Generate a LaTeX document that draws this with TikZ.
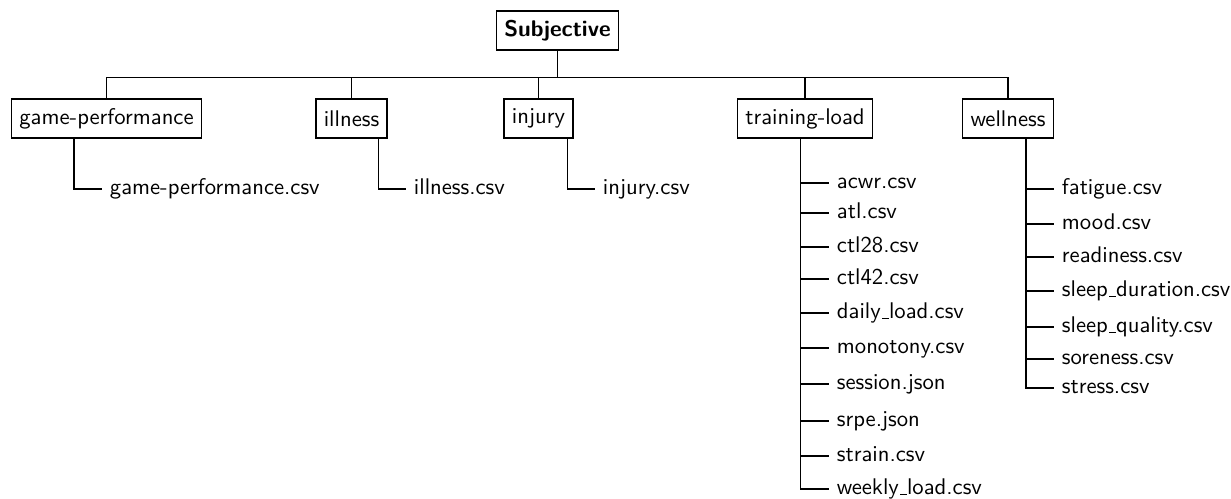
\documentclass[tikz,border=0pt]{standalone}
\renewcommand{\familydefault}{\sfdefault}
\newcommand{\usc}{\leavevmode\kern.06em\vbox{\hrule width.3em}}
\begin{document}
\begin{tikzpicture}[x=0.4587pt, y=-0.4587pt, line width=0.6pt,
  font=\fontsize{10.4}{12.5}\selectfont,
  folder/.style={draw, minimum height=17.9pt, inner xsep=3.6pt, inner ysep=3.33pt},
  file/.style={anchor=west, text height=1.6ex, text depth=.4ex}]
\useasboundingbox (0,0) rectangle (1231,498);
% top level
\node[folder] (subj) at (557.5,30.5) {\textbf{Subjective}};
\node[folder] (gp) at (106.5,118.5) {game-performance};
\node[folder] (ill) at (351.5,118.5) {illness};
\node[folder] (inj) at (538.5,118.5) {injury};
\node[folder] (tl) at (805,118.5) {training-load};
\node[folder] (well) at (1008,118.5) {wellness};
\draw (subj.south) -- ++(0,27) -| (gp.north);
\draw (subj.south) -- ++(0,27) -| (ill.north);
\draw (subj.south) -- ++(0,27) -| (inj.north);
\draw (subj.south) -- ++(0,27) -| (tl.north);
\draw (subj.south) -- ++(0,27) -| (well.north);
% single files
\node[file] (gpcsv) at (102,189) {game-performance.csv};
\node[file] (illcsv) at (406,189) {illness.csv};
\node[file] (injcsv) at (595,189) {injury.csv};
\draw ([shift={(63,0)}]gp.south west) |- (gpcsv.west);
\draw ([shift={(63,0)}]ill.south west) |- (illcsv.west);
\draw ([shift={(64,0)}]inj.south west) |- (injcsv.west);
% training-load files
\node[file] (acwr) at (829,183) {acwr.csv};
\node[file] (atl) at (829,213) {atl.csv};
\node[file] (ctla) at (829,247) {ctl28.csv};
\node[file] (ctlb) at (829,279) {ctl42.csv};
\node[file] (daily) at (829,313) {daily\usc load.csv};
\node[file] (mono) at (829,348) {monotony.csv};
\node[file] (sess) at (829,384) {session.json};
\node[file] (srpe) at (829,421) {srpe.json};
\node[file] (strain) at (829,456) {strain.csv};
\node[file] (weekly) at (829,489) {weekly\usc load.csv};
\draw ([shift={(64,0)}]tl.south west) |- (acwr.west);
\draw ([shift={(64,0)}]tl.south west) |- (atl.west);
\draw ([shift={(64,0)}]tl.south west) |- (ctla.west);
\draw ([shift={(64,0)}]tl.south west) |- (ctlb.west);
\draw ([shift={(64,0)}]tl.south west) |- (daily.west);
\draw ([shift={(64,0)}]tl.south west) |- (mono.west);
\draw ([shift={(64,0)}]tl.south west) |- (sess.west);
\draw ([shift={(64,0)}]tl.south west) |- (srpe.west);
\draw ([shift={(64,0)}]tl.south west) |- (strain.west);
\draw ([shift={(64,0)}]tl.south west) |- (weekly.west);
% wellness files
\node[file] (fat) at (1054,189) {fatigue.csv};
\node[file] (mood) at (1054,224) {mood.csv};
\node[file] (ready) at (1054,257) {readiness.csv};
\node[file] (sdur) at (1054,291) {sleep\usc duration.csv};
\node[file] (squal) at (1054,327) {sleep\usc quality.csv};
\node[file] (sore) at (1054,359) {soreness.csv};
\node[file] (stress) at (1054,388) {stress.csv};
\draw ([shift={(64,0)}]well.south west) |- (fat.west);
\draw ([shift={(64,0)}]well.south west) |- (mood.west);
\draw ([shift={(64,0)}]well.south west) |- (ready.west);
\draw ([shift={(64,0)}]well.south west) |- (sdur.west);
\draw ([shift={(64,0)}]well.south west) |- (squal.west);
\draw ([shift={(64,0)}]well.south west) |- (sore.west);
\draw ([shift={(64,0)}]well.south west) |- (stress.west);
\end{tikzpicture}
\end{document}
